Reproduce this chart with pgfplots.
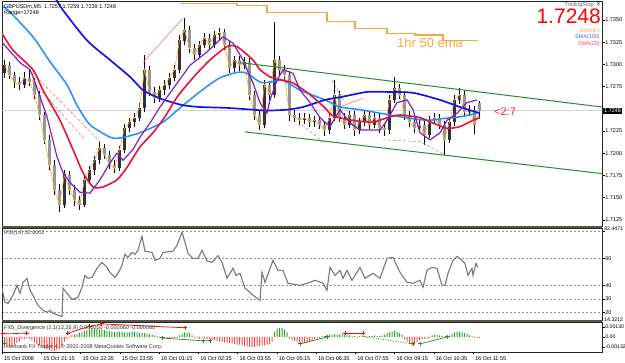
\documentclass[border=0pt]{standalone}
\usepackage{fontspec}
\setmainfont{Liberation Sans}
\usepackage{pgfplots}
\pgfplotsset{compat=1.18}
\usepackage{pgfplotstable}
\definecolor{smablue}{RGB}{20,20,225}
\definecolor{ltblue}{RGB}{30,144,255}
\definecolor{smared}{RGB}{232,20,55}
\definecolor{mapurple}{RGB}{130,30,200}
\definecolor{thinorange}{RGB}{255,170,40}
\definecolor{emaorange}{RGB}{245,168,60}
\definecolor{chgreen}{RGB}{40,140,40}
\definecolor{salmon}{RGB}{250,120,110}
\definecolor{bulld}{RGB}{50,50,62}
\definecolor{bearl}{RGB}{150,150,150}
\definecolor{rsigray}{RGB}{120,120,120}
\definecolor{hgreen}{RGB}{40,160,40}
\definecolor{hred}{RGB}{255,70,70}
\definecolor{sepc}{RGB}{85,85,70}

\pgfplotstableread{
x o h l c
5 1.7290 1.7305 1.7285 1.7299
15 1.7299 1.7303 1.7283 1.7288
25 1.7288 1.7292 1.7274 1.7280
35 1.7280 1.7286 1.7271 1.7277
45 1.7277 1.7291 1.7273 1.7285
55 1.7285 1.7294 1.7276 1.7280
65 1.7280 1.7285 1.7261 1.7266
75 1.7266 1.7270 1.7238 1.7243
85 1.7243 1.7247 1.7210 1.7215
95 1.7215 1.7220 1.7181 1.7187
105 1.7187 1.7192 1.7153 1.7159
115 1.7159 1.7165 1.7134 1.7142
125 1.7142 1.7181 1.7138 1.7176
135 1.7176 1.7180 1.7153 1.7159
145 1.7159 1.7164 1.7141 1.7147
155 1.7147 1.7152 1.7136 1.7142
165 1.7142 1.7175 1.7139 1.7170
175 1.7170 1.7186 1.7165 1.7181
185 1.7181 1.7197 1.7176 1.7192
195 1.7192 1.7213 1.7188 1.7206
205 1.7206 1.7210 1.7193 1.7198
215 1.7198 1.7202 1.7182 1.7187
225 1.7187 1.7192 1.7178 1.7183
235 1.7183 1.7208 1.7180 1.7204
245 1.7204 1.7233 1.7200 1.7228
255 1.7228 1.7240 1.7224 1.7235
265 1.7235 1.7245 1.7230 1.7240
275 1.7240 1.7256 1.7236 1.7251
285 1.7251 1.7311 1.7247 1.7294
295 1.7294 1.7298 1.7264 1.7269
305 1.7269 1.7274 1.7257 1.7262
315 1.7262 1.7276 1.7258 1.7271
325 1.7271 1.7282 1.7266 1.7277
335 1.7277 1.7290 1.7272 1.7285
345 1.7285 1.7299 1.7281 1.7294
355 1.7294 1.7333 1.7290 1.7327
365 1.7327 1.7352 1.7322 1.7339
375 1.7339 1.7343 1.7313 1.7318
385 1.7318 1.7323 1.7305 1.7311
395 1.7311 1.7327 1.7307 1.7322
405 1.7322 1.7335 1.7318 1.7330
415 1.7330 1.7334 1.7317 1.7322
425 1.7322 1.7338 1.7318 1.7333
435 1.7333 1.7341 1.7328 1.7336
445 1.7336 1.7340 1.7316 1.7322
455 1.7322 1.7326 1.7290 1.7296
465 1.7296 1.7310 1.7291 1.7305
475 1.7305 1.7309 1.7293 1.7299
485 1.7299 1.7308 1.7295 1.7303
495 1.7303 1.7307 1.7260 1.7266
505 1.7266 1.7270 1.7237 1.7243
515 1.7243 1.7247 1.7226 1.7232
525 1.7232 1.7282 1.7228 1.7277
535 1.7277 1.7281 1.7260 1.7266
545 1.7266 1.7348 1.7262 1.7305
555 1.7305 1.7309 1.7288 1.7294
565 1.7294 1.7299 1.7282 1.7288
575 1.7288 1.7292 1.7236 1.7243
585 1.7243 1.7249 1.7235 1.7240
595 1.7240 1.7245 1.7232 1.7237
605 1.7237 1.7245 1.7233 1.7240
615 1.7240 1.7244 1.7230 1.7235
625 1.7235 1.7242 1.7230 1.7237
635 1.7237 1.7241 1.7227 1.7232
645 1.7232 1.7236 1.7219 1.7226
655 1.7226 1.7245 1.7222 1.7240
665 1.7240 1.7282 1.7236 1.7266
675 1.7266 1.7270 1.7235 1.7240
685 1.7240 1.7245 1.7227 1.7232
695 1.7232 1.7248 1.7228 1.7243
705 1.7243 1.7247 1.7219 1.7226
715 1.7226 1.7240 1.7222 1.7235
725 1.7235 1.7249 1.7231 1.7243
735 1.7243 1.7247 1.7227 1.7232
745 1.7232 1.7245 1.7228 1.7240
755 1.7240 1.7244 1.7223 1.7228
765 1.7228 1.7233 1.7220 1.7226
775 1.7226 1.7265 1.7222 1.7260
785 1.7260 1.7286 1.7256 1.7273
795 1.7273 1.7278 1.7261 1.7266
805 1.7266 1.7270 1.7238 1.7243
815 1.7243 1.7248 1.7230 1.7235
825 1.7235 1.7240 1.7223 1.7228
835 1.7228 1.7237 1.7224 1.7232
845 1.7232 1.7236 1.7209 1.7221
855 1.7221 1.7242 1.7217 1.7237
865 1.7237 1.7245 1.7233 1.7240
875 1.7240 1.7244 1.7227 1.7232
885 1.7232 1.7236 1.7198 1.7215
895 1.7215 1.7240 1.7211 1.7235
905 1.7235 1.7265 1.7231 1.7260
915 1.7260 1.7273 1.7255 1.7266
925 1.7266 1.7270 1.7241 1.7246
935 1.7246 1.7254 1.7242 1.7249
945 1.7249 1.7253 1.7222 1.7232
955 1.7257 1.7259 1.7239 1.7248
}\candles

\pgfplotstableread{
x v
5 -0.0009
10 -0.0011
15 -0.0012
20 -0.0012
25 -0.0010
30 -0.0008
35 -0.0006
40 -0.0003
45 -0.0002
50 -0.0001
55 -0.0002
60 -0.0004
65 -0.0007
70 -0.0009
75 -0.0011
80 -0.0013
85 -0.0015
90 -0.0016
95 -0.0017
100 -0.0018
105 -0.0018
110 -0.0017
115 -0.0015
120 -0.0012
125 -0.0006
130 -0.0003
135 -0.0001
140 0.0002
145 0.0003
150 0.0004
155 0.0005
160 0.0006
165 0.0008
170 0.0009
175 0.0010
180 0.0011
185 0.0011
190 0.0011
195 0.0010
200 0.0010
205 0.0009
210 0.0008
215 0.0008
220 0.0007
225 0.0007
230 0.0007
235 0.0007
240 0.0007
245 0.0006
250 0.0006
255 0.0006
260 0.0007
265 0.0007
270 0.0006
275 0.0005
280 0.0005
285 0.0005
290 0.0004
295 0.0004
300 0.0003
305 0.0002
310 0.0001
315 -0.0001
320 -0.0002
325 -0.0002
330 -0.0003
335 -0.0002
340 -0.0002
345 -0.0001
350 -0.0001
355 0.0002
360 0.0004
365 0.0006
370 0.0006
375 0.0005
380 0.0002
385 -0.0001
390 -0.0002
395 -0.0002
400 -0.0001
405 -0.0002
410 -0.0003
415 -0.0003
420 -0.0004
425 -0.0004
430 -0.0005
435 -0.0006
440 -0.0006
445 -0.0007
450 -0.0007
455 -0.0008
460 -0.0008
465 -0.0009
470 -0.0010
475 -0.0010
480 -0.0011
485 -0.0012
490 -0.0012
495 -0.0013
500 -0.0013
505 -0.0013
510 -0.0012
515 -0.0012
520 -0.0011
525 -0.0011
530 -0.0010
535 -0.0009
540 -0.0006
545 0.0007
550 0.0011
555 0.0012
560 0.0012
565 0.0010
570 0.0006
575 -0.0002
580 -0.0004
585 -0.0005
590 -0.0006
595 -0.0007
600 -0.0008
605 -0.0008
610 -0.0007
615 -0.0006
620 -0.0005
625 -0.0003
630 -0.0002
635 -0.0001
640 0.0001
645 0.0001
650 0.0002
655 0.0003
660 0.0003
665 0.0004
670 0.0003
675 0.0003
680 0.0004
685 0.0003
690 0.0002
695 0.0002
700 0.0001
705 0.0001
710 -0.0001
715 0.0001
720 0.0002
725 0.0001
730 -0.0001
735 0.0001
740 0.0001
745 0.0002
750 0.0001
755 0.0001
760 0.0002
765 0.0003
770 0.0005
775 0.0006
780 0.0007
785 0.0008
790 0.0007
795 0.0005
800 0.0003
805 -0.0003
810 -0.0006
815 -0.0009
820 -0.0011
825 -0.0010
830 -0.0007
835 -0.0004
840 -0.0003
845 -0.0002
850 -0.0002
855 -0.0001
860 0.0002
865 0.0003
870 0.0003
875 0.0002
880 0.0001
885 -0.0001
890 0.0001
895 0.0002
900 0.0004
905 0.0006
910 0.0007
915 0.0007
920 0.0006
925 0.0005
930 0.0004
935 0.0002
940 0.0001
945 -0.0001
950 -0.0001
955 -0.0001
}\hist

\pgfplotsset{mt/.style={scale only axis, width=600pt, xmin=0, xmax=1200, clip=true,
  axis line style={draw=black!85, line width=0.6pt},
  ytick pos=right, yticklabel pos=right, tick align=outside, major tick length=2.5pt,
  tick style={black, line width=0.4pt}, xtick=\empty,
  ticklabel style={font=\fontsize{5.5}{6}\selectfont, text=black},
  yticklabel style={anchor=west, inner sep=0.6pt},
  axis background/.style={fill=white}}}

\newcommand{\sm}{\fontsize{5.5}{6}\selectfont}

\begin{document}
\begin{tikzpicture}[x=1pt,y=1pt]
\useasboundingbox (0,0) rectangle (625,363);
\fill[white] (0,0) rectangle (625,363);

% ---------------- main price panel
\begin{axis}[mt, at={(2pt,137pt)}, anchor=south west, height=225pt,
  ymin=1.71180, ymax=1.73714,
  ytick={1.7125,1.7150,1.7175,1.7200,1.7225,1.7275,1.7300,1.7325,1.7350},
  yticklabels={1.7125,1.7150,1.7175,1.7200,1.7225,1.7275,1.7300,1.7325,1.7350}]
% bid line
\addplot[black!18, line width=0.5pt] coordinates {(0,1.7248)(1200,1.7248)};
% wicks
\addplot[draw=none, mark=none, error bars/.cd, y dir=both, y explicit, error mark=none,
  error bar style={draw=black, line width=0.6pt}]
  table[x=x, y expr={(\thisrow{h}+\thisrow{l})/2}, y error expr={(\thisrow{h}-\thisrow{l})/2}] {\candles};
% bull bodies
\addplot[draw=none, mark=none, restrict expr to domain={\thisrow{c}-\thisrow{o}}{0:1},
  error bars/.cd, y dir=both, y explicit, error mark=none,
  error bar style={draw=bulld, line width=3pt}]
  table[x=x, y expr={(\thisrow{o}+\thisrow{c})/2}, y error expr={abs(\thisrow{c}-\thisrow{o})/2}] {\candles};
% bear bodies
\addplot[draw=none, mark=none, restrict expr to domain={\thisrow{c}-\thisrow{o}}{-1:0},
  error bars/.cd, y dir=both, y explicit, error mark=none,
  error bar style={draw=bearl, line width=3pt}]
  table[x=x, y expr={(\thisrow{o}+\thisrow{c})/2}, y error expr={abs(\thisrow{c}-\thisrow{o})/2}] {\candles};
% dashed / thin helper lines
\addplot[salmon, densely dashed, line width=0.6pt] coordinates {(60,1.7291)(196,1.7213)};
\addplot[salmon, densely dashed, line width=0.6pt] coordinates {(60,1.7282)(166,1.7215)};
\addplot[salmon, line width=0.6pt] coordinates {(282,1.7302)(362,1.7352)};
\addplot[salmon, densely dashed, line width=0.6pt] coordinates {(660,1.7282)(686,1.7257)};
\addplot[salmon, line width=0.6pt] coordinates {(676,1.7252)(722,1.7262)};
\addplot[chgreen!70, densely dashed, line width=0.5pt] coordinates {(762,1.7215)(836,1.7213)(886,1.7198)};
\addplot[chgreen!70, densely dashed, line width=0.5pt] coordinates {(600,1.7232)(646,1.7211)};
% thin orange (close)
\addplot[thinorange, line width=0.6pt] table[x=x, y=c] {\candles};
% light blue MA
\addplot[ltblue, line width=1.5pt, smooth, tension=0.4] coordinates {
(2,1.7365)(16,1.7359)(62,1.7331)(96,1.7303)(130,1.7277)(150,1.7254)(176,1.7232)(216,1.7218)
(236,1.7217)(276,1.7223)(322,1.7235)(356,1.7251)(400,1.7271)(436,1.7285)(470,1.7291)(490,1.7290)
(516,1.7280)(536,1.7280)(562,1.7282)(596,1.7271)(646,1.7260)(676,1.7252)(716,1.7249)(756,1.7245)
(796,1.7241)(850,1.7237)(882,1.7239)(916,1.7241)(950,1.7245)};
% blue SMA(100)
\addplot[smablue, line width=1.7pt, smooth, tension=0.4] coordinates {
(106,1.73755)(122,1.7361)(170,1.7327)(216,1.7305)(256,1.7286)(282,1.7271)(310,1.7263)(330,1.7259)
(362,1.7254)(396,1.7252)(450,1.7251)(502,1.7249)(530,1.7248)(570,1.7249)(602,1.7252)(646,1.7260)
(676,1.7263)(730,1.7269)(770,1.7269)(822,1.7268)(876,1.7260)(916,1.7252)(956,1.7245)};
% red SMA(20)
\addplot[smared, line width=1.6pt, smooth, tension=0.4] coordinates {
(0,1.7335)(22,1.7316)(62,1.7294)(82,1.7271)(116,1.7237)(142,1.7204)(162,1.7178)(182,1.7162)
(202,1.7162)(230,1.7170)(250,1.7184)(276,1.7207)(302,1.7223)(326,1.7241)(350,1.7263)(382,1.7285)
(416,1.7305)(450,1.7320)(470,1.7320)(502,1.7305)(516,1.7294)(536,1.7286)(562,1.7282)(582,1.7279)
(616,1.7266)(646,1.7251)(662,1.7242)(702,1.7237)(742,1.7235)(776,1.7241)(796,1.7243)(836,1.7240)
(862,1.7234)(890,1.7228)(916,1.7230)(942,1.7237)(956,1.7240)};
% purple MA
\addplot[mapurple, line width=1.2pt] coordinates {
(0,1.7325)(36,1.7302)(56,1.7294)(62,1.7286)(90,1.7241)(110,1.7196)(122,1.7178)(136,1.7167)
(156,1.7156)(176,1.7155)(196,1.7170)(216,1.7189)(230,1.7200)(242,1.7192)(262,1.7204)(276,1.7218)
(296,1.7234)(316,1.7252)(330,1.7263)(376,1.7299)(410,1.7314)(442,1.7331)(462,1.7324)(482,1.7305)
(502,1.7279)(516,1.7257)(530,1.7245)(536,1.7260)(550,1.7282)(562,1.7294)(582,1.7290)(596,1.7271)
(616,1.7257)(636,1.7240)(656,1.7230)(676,1.7249)(696,1.7234)(716,1.7226)(756,1.7226)(770,1.7237)
(790,1.7257)(810,1.7260)(822,1.7249)(836,1.7223)(856,1.7215)(876,1.7223)(890,1.7237)(910,1.7245)
(930,1.7257)(950,1.7260)};
% channel
\addplot[chgreen, line width=1pt] coordinates {(476,1.7302)(1200,1.7252)};
\addplot[chgreen, line width=1pt] coordinates {(486,1.7224)(1200,1.7177)};
% 1hr 50 ema (step)
\addplot[emaorange, line width=1.2pt, const plot] coordinates {
(356,1.7369)(470,1.7366)(530,1.7358)(650,1.7348)(706,1.7340)(770,1.7335)(826,1.7333)(882,1.7327)(952,1.7327)};
\end{axis}

% ---------------- RSI panel
\begin{axis}[mt, at={(2pt,43pt)}, anchor=south west, height=92pt,
  ymin=14.3212, ymax=82.4471,
  ytick={20,30,40,60,80}, yticklabels={20,30,40,60,{}},
  ymajorgrids, grid style={rsigray!80, dash pattern=on 2pt off 2pt, line width=0.5pt},
  extra y ticks={14.8,81.9}, extra y tick labels={14.3212,82.4471},
  extra y tick style={grid=none, major tick length=0pt, yticklabel style={font=\fontsize{5.2}{6}\selectfont, xshift=1.5pt}}]
\addplot[rsigray, line width=1.1pt] coordinates {
(0,37.8)(6,27.4)(12,26.7)(22,32.6)(30,40.0)(36,34.1)(42,42.2)(50,45.2)(56,36.3)(62,32.6)(72,25.2)
(82,21.5)(90,20.0)(96,21.5)(102,19.3)(112,17.8)(120,17.0)(122,37.8)(130,34.1)(136,31.1)(142,29.6)
(152,31.1)(160,38.5)(166,47.4)(172,45.2)(180,45.9)(190,52.6)(200,57.0)(210,53.3)(216,49.6)(226,45.9)
(232,48.9)(240,54.8)(246,63.0)(252,60.7)(260,64.4)(266,63.0)(272,65.9)(280,76.3)(286,65.2)(300,64.4)
(306,58.5)(316,60.0)(322,64.4)(342,65.2)(350,69.6)(360,79.3)(366,71.9)(372,63.7)(382,60.0)(392,60.0)
(400,65.9)(410,58.0)(420,57.0)(432,62.0)(440,57.0)(450,45.2)(462,52.6)(468,47.4)(476,48.9)(486,37.8)
(496,34.8)(502,32.6)(516,28.9)(520,49.6)(526,42.2)(542,58.5)(552,51.1)(562,51.1)(572,41.5)(596,40.0)
(616,42.2)(626,43.7)(642,41.5)(650,36.3)(656,53.3)(666,47.4)(676,51.1)(682,45.2)(690,51.1)(700,43.7)
(716,53.3)(726,45.2)(742,48.9)(756,45.2)(770,60.0)(782,60.7)(796,49.6)(810,42.2)(822,41.5)(836,43.7)
(842,38.5)(850,51.1)(860,53.3)(870,52.6)(880,40.0)(886,40.0)(892,48.9)(902,58.5)(910,61.5)(920,58.5)
(926,56.3)(932,47.4)(940,52.6)(942,47.4)(948,56.3)(952,53.3)};
\end{axis}

% ---------------- divergence histogram panel
\begin{axis}[mt, at={(2pt,11pt)}, anchor=south west, height=30pt,
  ymin=-0.00195, ymax=0.00195, scaled y ticks=false,
  ytick={-0.00132,0,0.0013}, yticklabels={-0.00132,0.00,0.00130},
  yticklabel style={font=\fontsize{5.2}{6}\selectfont},
  xtick={0,78.5,157,235.5,314,392.5,471,549.5,628,706.5,785,863.5,942},
  xticklabels={15 Oct 2008,15 Oct 21:15,15 Oct 22:35,15 Oct 23:55,16 Oct 01:15,16 Oct 02:35,16 Oct 03:55,16 Oct 05:15,16 Oct 06:35,16 Oct 07:55,16 Oct 09:15,16 Oct 10:35,16 Oct 11:55},
  xtick pos=lower, xticklabel pos=lower,
  xticklabel style={anchor=north west, xshift=-1.5pt, yshift=1pt}]
\addplot[ybar, bar width=1pt, bar shift=0pt, fill=hgreen, draw=none, restrict y to domain=0:1] table[x=x, y=v] {\hist};
\addplot[ybar, bar width=1pt, bar shift=0pt, fill=hred, draw=none, restrict y to domain=-1:0] table[x=x, y=v] {\hist};
\addplot[red, line width=0.7pt, mark=+, mark size=2.2pt, mark options={line width=1pt}] coordinates {(2,0.0004)(50,0.0005)};
\addplot[red, line width=0.7pt, mark=+, mark size=2.2pt, mark options={line width=1pt}] coordinates {(132,0.0005)(176,0.0014)(200,0.0017)(366,0.0012)};
\addplot[red, line width=0.7pt, mark=+, mark size=2.2pt, mark options={line width=1pt}] coordinates {(686,0.0005)(722,0.0005)};
\addplot[chgreen, line width=0.7pt, mark=+, mark size=2.2pt, mark options={line width=1pt}] coordinates {(6,-0.0008)};
\addplot[chgreen, line width=0.7pt, mark=+, mark size=2.2pt, mark options={line width=1pt}] coordinates {(320,-0.00013)(402,-0.0005)(416,-0.0005)};
\addplot[chgreen, line width=0.7pt, mark=+, mark size=2.2pt, mark options={line width=1pt}] coordinates {(596,-0.0009)(650,0.0)};
\addplot[chgreen, densely dotted, line width=0.7pt] coordinates {(722,0.0001)(822,-0.0009)};
\addplot[chgreen, only marks, mark=+, mark size=2.2pt, mark options={line width=1pt}] coordinates {(822,-0.0009)};
\addplot[chgreen, line width=0.7pt, mark=+, mark size=2.2pt, mark options={line width=1pt}] coordinates {(836,-0.0009)(890,0.0)};
\end{axis}

% separators
\fill[sepc] (2,135) rectangle (602,137.2);
\fill[sepc] (2,41) rectangle (602,43.2);

% texts
\node[anchor=north west, inner sep=0pt, font=\sm] at (4,359) {GBPUSDm,M5\ \ 1.7257 1.7259 1.7239 1.7248};
\node[anchor=north west, inner sep=0pt, font=\sm] at (4,353) {Range=17248};
\node[anchor=north east, inner sep=0pt, font=\sm, text=black!60] at (594,360.5) {TrailingStop};
\node[anchor=north east, inner sep=0pt, font=\sm] at (600,360.5) {x};
\node[anchor=base east, inner sep=0pt, text height=15pt, text depth=0pt, font=\fontsize{21}{21}\selectfont, text=red] at (601,339) {1.7248};
\node[anchor=east, inner sep=0pt, font=\fontsize{5}{5.5}\selectfont, text=emaorange] at (600,332) {EMA(50)};
\node[anchor=east, inner sep=0pt, font=\sm, text={rgb,255:red,90;green,90;blue,230}] at (600,325.5) {SMA(100)};
\node[anchor=east, inner sep=0pt, font=\sm, text={rgb,255:red,240;green,80;blue,110}] at (600,319) {SMA(20)};
\node[anchor=base west, inner sep=0pt, font=\fontsize{13}{13}\selectfont, text=emaorange] at (397,315) {1hr 50 ema};
\node[anchor=base west, inner sep=0pt, font=\fontsize{11}{11}\selectfont, text={rgb,255:red,255;green,40;blue,40}] at (494,247) {<2:7};
\node[anchor=west, fill=black, text=white, inner sep=1pt, font=\sm] at (603,252.4) {1.7248};
\node[anchor=north west, inner sep=0pt, font=\sm, text=black!75] at (4,133) {RSI(14) 52.6002};
\node[anchor=north west, inner sep=0pt, font=\sm, text=black!80] at (4,38) {FX5\_Divergence (2,1(12,26,9) 0.000000 -0.000060 -0.000060};
\node[anchor=north west, inner sep=0pt, font=\sm, text=black!80] at (4,18.5) {Interbank FX Trader 4, \textcopyright\ 2001-2008 MetaQuotes Software Corp.};
\end{tikzpicture}
\end{document}
